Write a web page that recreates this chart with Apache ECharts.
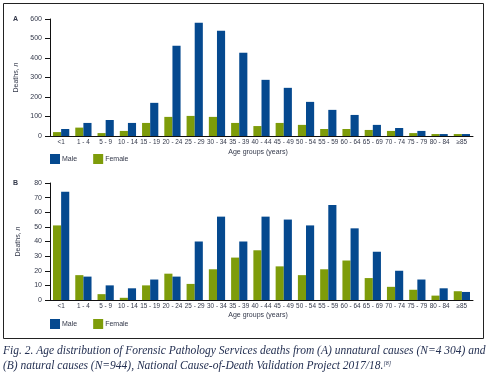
<!DOCTYPE html>
<html><head><meta charset="utf-8">
<script src="https://cdn.jsdelivr.net/npm/echarts@6/dist/echarts.min.js"></script>
<style>html,body{margin:0;padding:0;background:#fff}#c{width:490px;height:378px}</style>
</head><body><div id="c"></div>
<script>
const categories = ['<1','1 - 4','5 - 9','10 - 14','15 - 19','20 - 24','25 - 29','30 - 34','35 - 39','40 - 44','45 - 49','50 - 54','55 - 59','60 - 64','65 - 69','70 - 74','75 - 79','80 - 84','≥85'];
const maleA   = [36, 67, 82, 67, 170, 463, 581, 540, 427, 288, 247, 175, 134, 108, 57, 41, 26, 10, 10];
const femaleA = [20, 43, 15, 26, 67, 98, 103, 98, 67, 51, 67, 57, 36, 36, 31, 26, 15, 10, 10];
const maleB   = [74, 16, 10, 8, 14, 16, 40, 57, 40, 57, 55, 51, 65, 49, 33, 20, 14, 8, 5.5];
const femaleB = [51, 17, 4, 1.5, 10, 18, 11, 21, 29, 34, 23, 17, 21, 27, 15, 9, 7, 3, 6];
const ticksA = {min: 0, max: 600, interval: 100};
const ticksB = {min: 0, max: 80, interval: 10};

const MALE = '#05498f', FEMALE = '#7e9c0a', TXT = '#33384a';
const FF = '"Liberation Sans", Arial, sans-serif';
const chart = echarts.init(document.getElementById('c'), null, {renderer: 'canvas'});
function xAx(gi){
  return {type:'category', gridIndex:gi, data:categories,
    axisLine:{lineStyle:{color:'#111', width:1}}, axisTick:{show:false},
    axisLabel:{interval:0, fontSize:6.4, color:TXT, margin:3, fontFamily:FF}};
}
function yAx(gi, t){
  return {type:'value', gridIndex:gi, min:t.min, max:t.max, interval:t.interval,
    name:'{a|Deaths, }{b|n}', nameLocation:'middle', nameGap:28, nameRotate:90,
    nameTextStyle:{rich:{a:{fontSize:7, color:TXT, fontFamily:FF}, b:{fontSize:7, color:TXT, fontStyle:'italic', fontFamily:FF}}},
    axisLine:{show:true, lineStyle:{color:'#111', width:1}},
    axisTick:{show:true, length:5, lineStyle:{color:'#111'}},
    splitLine:{show:false},
    axisLabel:{fontSize:7, color:TXT, margin:8, fontFamily:FF}};
}
function bar(name, data, gi, color){
  return {type:'bar', name:name, data:data, xAxisIndex:gi, yAxisIndex:gi,
    itemStyle:{color:color}, barGap:'0%', barCategoryGap:'27%', animation:false};
}
const lab = {fontSize:7, fill:TXT, fontFamily:FF};
chart.setOption({
  animation:false,
  grid:[{left:50, right:17, top:19, height:117}, {left:50, right:17, top:183, height:117}],
  xAxis:[xAx(0), xAx(1)],
  yAxis:[yAx(0, ticksA), yAx(1, ticksB)],
  legend:[
    {data:['Male','Female'], left:50, top:154, padding:0, icon:'rect', itemWidth:10, itemHeight:10, itemGap:16,
     textStyle:{fontSize:7, color:TXT, fontFamily:FF, padding:[0,0,0,-3]}},
    {data:['Male','Female'], left:50, top:319, padding:0, icon:'rect', itemWidth:10, itemHeight:10, itemGap:16,
     textStyle:{fontSize:7, color:TXT, fontFamily:FF, padding:[0,0,0,-3]}}
  ],
  series:[bar('Female', femaleA, 0, FEMALE), bar('Male', maleA, 0, MALE),
          bar('Female', femaleB, 1, FEMALE), bar('Male', maleB, 1, MALE)],
  graphic:[
    {type:'rect', shape:{x:3.5, y:3.5, width:480, height:335}, style:{fill:null, stroke:'#222', lineWidth:1}, silent:true},
    {type:'text', x:13, y:16, style:Object.assign({text:'A', fontWeight:'bold'}, lab)},
    {type:'text', x:13, y:180, style:Object.assign({text:'B', fontWeight:'bold'}, lab)},
    {type:'text', x:258, y:149, style:Object.assign({text:'Age groups (years)', align:'center'}, lab)},
    {type:'text', x:258, y:312, style:Object.assign({text:'Age groups (years)', align:'center'}, lab)},
    {type:'text', x:3, y:345, style:{text:'Fig. 2. Age distribution of Forensic Pathology Services deaths from (A) unnatural causes (N=4 304) and', fontSize:11.5, fontStyle:'italic', fontFamily:'Liberation Serif', fill:'#243052'}},
    {type:'text', x:3, y:360, style:{text:'(B) natural causes (N=944), National Cause-of-Death Validation Project 2017/18.{s|[8]}', fontSize:11.5, fontStyle:'italic', fontFamily:'Liberation Serif', fill:'#243052',
      rich:{s:{fontSize:6, fontStyle:'italic', fontFamily:'Liberation Serif', fill:'#243052', padding:[0,0,5,0]}}}}
  ]
});
</script></body></html>
